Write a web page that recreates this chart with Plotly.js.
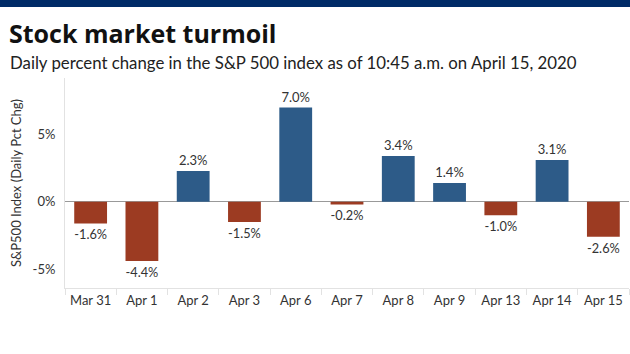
<!DOCTYPE html>
<html><head><meta charset="utf-8">
<script src="https://cdn.plot.ly/plotly-3.0.1.min.js"></script>
<style>html,body{margin:0;padding:0;background:#fff}#top{position:absolute;left:0;top:0;width:630px;height:7px;background:#002b67}</style>
</head><body>
<div id="chart" style="width:630px;height:354px"></div>
<div id="top"></div>
<script>
const categories = ["Mar 31","Apr 1","Apr 2","Apr 3","Apr 6","Apr 7","Apr 8","Apr 9","Apr 13","Apr 14","Apr 15"];
const values = [-1.6,-4.4,2.3,-1.5,7.0,-0.2,3.4,1.4,-1.0,3.1,-2.6];
const yTickVals = [-5,0,5];
const yTickText = ["-5%","0%","5%"];
const colors = values.map(v => v >= 0 ? "#2d5b88" : "#9c3b22");
const labels = values.map(v => v.toFixed(1) + "%");
const FONT = "Lato, 'Open Sans', sans-serif";
Plotly.newPlot("chart", [{
  type: "bar", x: categories, y: values,
  marker: {color: colors},
  text: labels, textposition: "outside", cliponaxis: false,
  textfont: {family: FONT, size: 13, color: "#333"},
  hoverinfo: "none"
}], {
  width: 630, height: 354,
  margin: {l: 65, r: 1, t: 78, b: 66},
  bargap: 0.36,
  paper_bgcolor: "#fff", plot_bgcolor: "#fff",
  showlegend: false,
  font: {family: FONT, color: "#333"},
  xaxis: {type: "category", showgrid: false, showline: true, linecolor: "#e2e2e2",
    ticks: "outside", tickson: "boundaries", ticklen: 6, tickcolor: "#e2e2e2",
    tickfont: {family: FONT, size: 13, color: "#333"}, fixedrange: true},
  yaxis: {range: [-6.4, 9.2], tickvals: yTickVals, ticktext: yTickText, showgrid: false,
    zeroline: true, zerolinecolor: "#999", zerolinewidth: 1,
    showline: true, linecolor: "#e2e2e2", ticks: "", ticklabelstandoff: 6,
    tickfont: {family: FONT, size: 13, color: "#333"},
    title: {text: "S&P500 Index (Daily Pct Chg)", font: {family: FONT, size: 13, color: "#333"}, standoff: 8}},
  annotations: [
    {text: "<b>Stock market turmoil</b>", xref: "paper", yref: "paper", x: (7-65)/564, y: 1, xanchor: "left", yanchor: "bottom", yshift: 26, showarrow: false, font: {family: "'Open Sans', sans-serif", size: 25, color: "#111"}},
    {text: "Daily percent change in the S&P 500 index as of 10:45 a.m. on April 15, 2020", xref: "paper", yref: "paper", x: (8-65)/564, y: 1, xanchor: "left", yanchor: "bottom", yshift: 3, showarrow: false, font: {family: FONT, size: 16.8, color: "#222"}}
  ]
}, {staticPlot: true});
</script>
</body></html>
